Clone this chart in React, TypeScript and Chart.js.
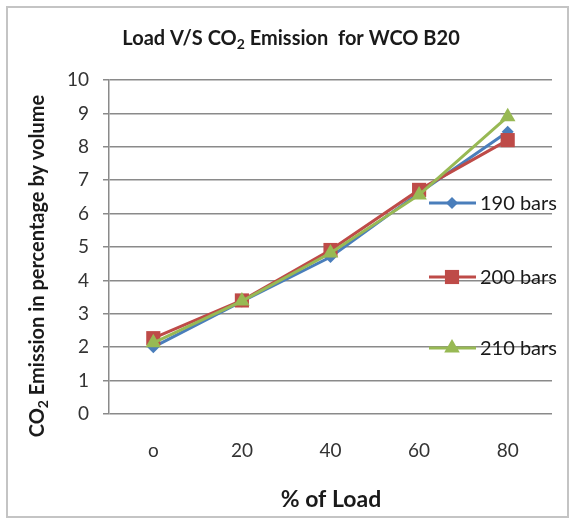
import React, { useEffect, useRef } from "react";
import { Chart, registerables } from "chart.js";

Chart.register(...registerables);

const categories = ["o", "20", "40", "60", "80"];
const seriesNames = ["190 bars", "200 bars", "210 bars"];
const bar190 = [2.0, 3.37, 4.7, 6.62, 8.45];
const bar200 = [2.27, 3.4, 4.91, 6.71, 8.2];
const bar210 = [2.13, 3.38, 4.82, 6.56, 8.9];
const colors = ["#4A7EBB", "#BE4B48", "#98B954"];
const yTicks = [0, 1, 2, 3, 4, 5, 6, 7, 8, 9, 10];

const FONT = "Lato, 'Open Sans', sans-serif";

function marker(ctx: CanvasRenderingContext2D, style: string, r: number, x: number, y: number) {
  ctx.beginPath();
  if (style === "rectRot") {
    ctx.moveTo(x - r, y);
    ctx.lineTo(x, y - r);
    ctx.lineTo(x + r, y);
    ctx.lineTo(x, y + r);
  } else if (style === "rect") {
    const s = r * Math.SQRT1_2;
    ctx.rect(x - s, y - s, 2 * s, 2 * s);
  } else {
    for (let k = 0; k < 3; k++) {
      const a = (k * 2 * Math.PI) / 3;
      const px = x + Math.sin(a) * r;
      const py = y - Math.cos(a) * r;
      if (k === 0) ctx.moveTo(px, py);
      else ctx.lineTo(px, py);
    }
  }
  ctx.closePath();
  ctx.fill();
}

const decorPlugin = {
  id: "decor",
  afterDraw(chart: any) {
    const ctx = chart.ctx as CanvasRenderingContext2D;
    ctx.save();
    ctx.strokeStyle = "#c4c4c4";
    ctx.lineWidth = 2;
    ctx.strokeRect(7, 7, 561, 510);

    const measure = (parts: { t: string; sub?: boolean }[], size: number, weight: string) => {
      const main = `${weight} ${size}px ${FONT}`;
      const small = `${weight} ${Math.round(size * 0.68)}px ${FONT}`;
      let w = 0;
      for (const p of parts) {
        ctx.font = p.sub ? small : main;
        w += ctx.measureText(p.t).width;
      }
      return { main, small, w };
    };
    const renderParts = (parts: { t: string; sub?: boolean }[], x: number, y: number, size: number, info: any) => {
      let cx = x;
      for (const p of parts) {
        ctx.font = p.sub ? info.small : info.main;
        ctx.fillText(p.t, cx, p.sub ? y + size * 0.22 : y);
        cx += ctx.measureText(p.t).width;
      }
    };

    ctx.fillStyle = "#1a1a1a";
    ctx.textBaseline = "alphabetic";
    ctx.textAlign = "left";
    const titleParts = [{ t: "Load V/S CO" }, { t: "2", sub: true }, { t: " Emission  for WCO B20" }];
    const tSize = 20;
    const ti = measure(titleParts, tSize, "bold");
    renderParts(titleParts, 291 - ti.w / 2, 45, tSize, ti);

    const yParts = [{ t: "CO" }, { t: "2", sub: true }, { t: " Emission in percentage by volume" }];
    const ySize = 20;
    const yi = measure(yParts, ySize, "bold");
    ctx.save();
    ctx.translate(44, 266);
    ctx.rotate(-Math.PI / 2);
    renderParts(yParts, -yi.w / 2, 0, ySize, yi);
    ctx.restore();

    ctx.font = `bold 23px ${FONT}`;
    ctx.textAlign = "center";
    ctx.fillText("% of Load", 331, 507);

    const legendY = [203, 277, 348];
    const styles = ["rectRot", "rect", "triangle"];
    const radii = [6, 10, 9];
    chart.data.datasets.forEach((_ds: any, i: number) => {
      const y = legendY[i];
      ctx.strokeStyle = colors[i];
      ctx.lineWidth = 3;
      ctx.beginPath();
      ctx.moveTo(429, y);
      ctx.lineTo(476, y);
      ctx.stroke();
      ctx.fillStyle = colors[i];
      marker(ctx, styles[i], radii[i], 452, y);
      ctx.fillStyle = "#1a1a1a";
      ctx.font = `20px ${FONT}`;
      ctx.textAlign = "left";
      ctx.textBaseline = "middle";
      ctx.fillText(seriesNames[i], 480, y + 1);
    });
    ctx.restore();
  },
};

export default function App() {
  const ref = useRef<HTMLCanvasElement | null>(null);
  useEffect(() => {
    if (!ref.current) return;
    const mk = (data: number[], i: number, style: string, r: number, order: number) => ({
      label: seriesNames[i],
      data,
      borderColor: colors[i],
      backgroundColor: colors[i],
      pointBackgroundColor: colors[i],
      pointBorderColor: colors[i],
      pointBorderWidth: 0,
      borderWidth: 3,
      pointStyle: style,
      pointRadius: r,
      tension: 0,
      order,
    });
    const chart = new Chart(ref.current, {
      type: "line",
      data: {
        labels: categories,
        datasets: [
          mk(bar190, 0, "rectRot", 6, 3),
          mk(bar200, 1, "rect", 10, 2),
          mk(bar210, 2, "triangle", 9, 1),
        ],
      },
      options: {
        responsive: false,
        animation: false,
        layout: { padding: { top: 80, right: 21, left: 0, bottom: 0 } },
        plugins: { legend: { display: false }, title: { display: false }, tooltip: { enabled: false } },
        scales: {
          x: {
            offset: true,
            grid: { display: false, drawTicks: false },
            border: { display: false },
            ticks: { font: { family: FONT, size: 19 }, color: "#333333", padding: 25 },
            afterFit: (s: any) => { s.height = 105; },
          },
          y: {
            min: 0,
            max: 10,
            afterBuildTicks: (s: any) => { s.ticks = yTicks.map((v) => ({ value: v })); },
            grid: { color: "#8a8a8a", lineWidth: 1.5, tickLength: 6, drawTicks: true },
            border: { display: true, color: "#8a8a8a", width: 1.5 },
            ticks: { font: { family: FONT, size: 19 }, color: "#333333", padding: 14 },
            afterFit: (s: any) => { s.width = 109; },
          },
        },
      },
      plugins: [decorPlugin],
    });
    return () => chart.destroy();
  }, []);
  return (
    <div style={{ position: "absolute", left: 0, top: 0, width: 573, height: 519, background: "#fff" }}>
      <canvas ref={ref} width={573} height={519} />
    </div>
  );
}
